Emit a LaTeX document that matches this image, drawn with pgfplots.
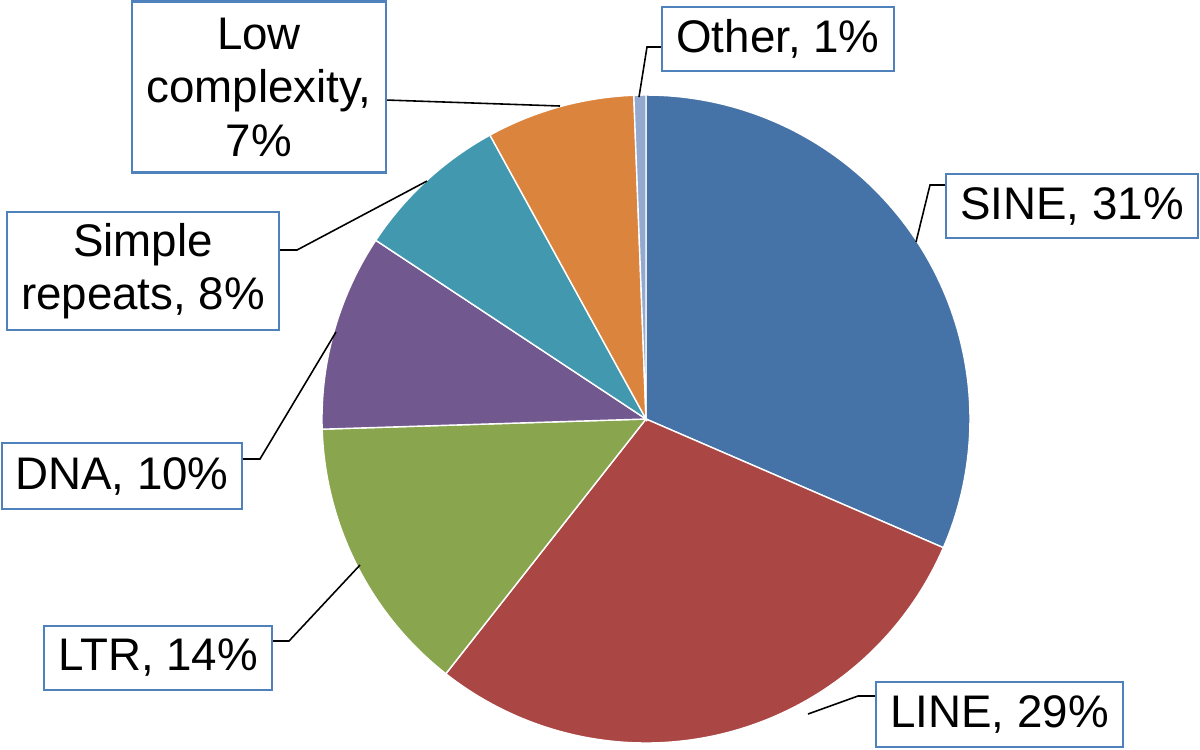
\documentclass[border=0pt]{standalone}
\usepackage{pgfplots}
\pgfplotsset{compat=1.18}
\usepackage{fontspec}
\setmainfont{Liberation Sans}
\definecolor{cSINE}{HTML}{4572A7}
\definecolor{cLINE}{HTML}{AA4643}
\definecolor{cLTR}{HTML}{89A54E}
\definecolor{cDNA}{HTML}{71588F}
\definecolor{cSIMPLE}{HTML}{4198AF}
\definecolor{cLOW}{HTML}{DB843D}
\definecolor{cOTHER}{HTML}{93A9CF}
\definecolor{boxblue}{HTML}{4F81BD}

% shares in percent, clockwise from 12 o'clock
\def\pSINE{31.5}
\def\pLINE{29.1}
\def\pLTR{13.9}
\def\pDNA{9.8}
\def\pSIMPLE{7.7}
\def\pLOW{7.4}
\def\pOTHER{0.6}

\pgfmathsetmacro\aA{0}
\pgfmathsetmacro\aB{\aA+3.6*\pSINE}
\pgfmathsetmacro\aC{\aB+3.6*\pLINE}
\pgfmathsetmacro\aD{\aC+3.6*\pLTR}
\pgfmathsetmacro\aE{\aD+3.6*\pDNA}
\pgfmathsetmacro\aF{\aE+3.6*\pSIMPLE}
\pgfmathsetmacro\aG{\aF+3.6*\pLOW}
\pgfmathsetmacro\aH{\aG+3.6*\pOTHER}

\def\cx{646}
\def\cy{419}
\def\pr{324}

\tikzset{
  lbl/.style={draw=boxblue, line width=0.6pt, fill=white, align=center,
    inner sep=0pt, font=\fontsize{13}{15.2}\selectfont},
  lead/.style={black, line width=0.45pt},
}

\begin{document}
\begin{tikzpicture}
\begin{axis}[
  scale only axis, width=12cm, height=7.49cm,
  xmin=0, xmax=1200, ymin=0, ymax=749, y dir=reverse,
  hide axis, clip=false,
]
\addplot[draw=none] coordinates {(0,0) (1200,749)};

\addplot[fill=cSINE, draw=white, line width=0.4pt, domain=\aA:\aB, samples=90, variable=\t]
  ({\cx+\pr*sin(\t)}, {\cy-\pr*cos(\t)}) -- (axis cs:\cx,\cy) -- cycle;
\addplot[fill=cLINE, draw=white, line width=0.4pt, domain=\aB:\aC, samples=90, variable=\t]
  ({\cx+\pr*sin(\t)}, {\cy-\pr*cos(\t)}) -- (axis cs:\cx,\cy) -- cycle;
\addplot[fill=cLTR, draw=white, line width=0.4pt, domain=\aC:\aD, samples=50, variable=\t]
  ({\cx+\pr*sin(\t)}, {\cy-\pr*cos(\t)}) -- (axis cs:\cx,\cy) -- cycle;
\addplot[fill=cDNA, draw=white, line width=0.4pt, domain=\aD:\aE, samples=40, variable=\t]
  ({\cx+\pr*sin(\t)}, {\cy-\pr*cos(\t)}) -- (axis cs:\cx,\cy) -- cycle;
\addplot[fill=cSIMPLE, draw=white, line width=0.4pt, domain=\aE:\aF, samples=30, variable=\t]
  ({\cx+\pr*sin(\t)}, {\cy-\pr*cos(\t)}) -- (axis cs:\cx,\cy) -- cycle;
\addplot[fill=cLOW, draw=white, line width=0.4pt, domain=\aF:\aG, samples=30, variable=\t]
  ({\cx+\pr*sin(\t)}, {\cy-\pr*cos(\t)}) -- (axis cs:\cx,\cy) -- cycle;
\addplot[fill=cOTHER, draw=white, line width=0.4pt, domain=\aG:\aH, samples=5, variable=\t]
  ({\cx+\pr*sin(\t)}, {\cy-\pr*cos(\t)}) -- (axis cs:\cx,\cy) -- cycle;

% leader lines
\addplot[lead] coordinates {(946,185) (930,185) (916,242)};
\addplot[lead] coordinates {(876,696) (858,696) (808,714)};
\addplot[lead] coordinates {(272,641) (289,641) (360,565)};
\addplot[lead] coordinates {(242,459) (260,459) (336,332)};
\addplot[lead] coordinates {(279,250) (297,250) (427,181)};
\addplot[lead] coordinates {(386,100) (560,106)};
\addplot[lead] coordinates {(662,47) (647,47) (639,97)};

% labels
\node[lbl, minimum width=25.2mm, minimum height=6.4mm] at (axis cs:1072,206) {SINE, 31\%};
\node[lbl, minimum width=24.7mm, minimum height=6.5mm] at (axis cs:999.5,714.5) {LINE, 29\%};
\node[lbl, minimum width=22.8mm, minimum height=6.4mm] at (axis cs:158,658) {LTR, 14\%};
\node[lbl, minimum width=24.0mm, minimum height=6.6mm] at (axis cs:122,476) {DNA, 10\%};
\node[lbl, minimum width=27.2mm, minimum height=11.8mm] at (axis cs:143,271) {Simple\\repeats, 8\%};
\node[lbl, minimum width=25.4mm, minimum height=17.1mm] at (axis cs:259,87) {Low\\complexity,\\7\%};
\node[lbl, minimum width=23.2mm, minimum height=6.4mm] at (axis cs:778,39) {Other, 1\%};
\end{axis}
\end{tikzpicture}
\end{document}
